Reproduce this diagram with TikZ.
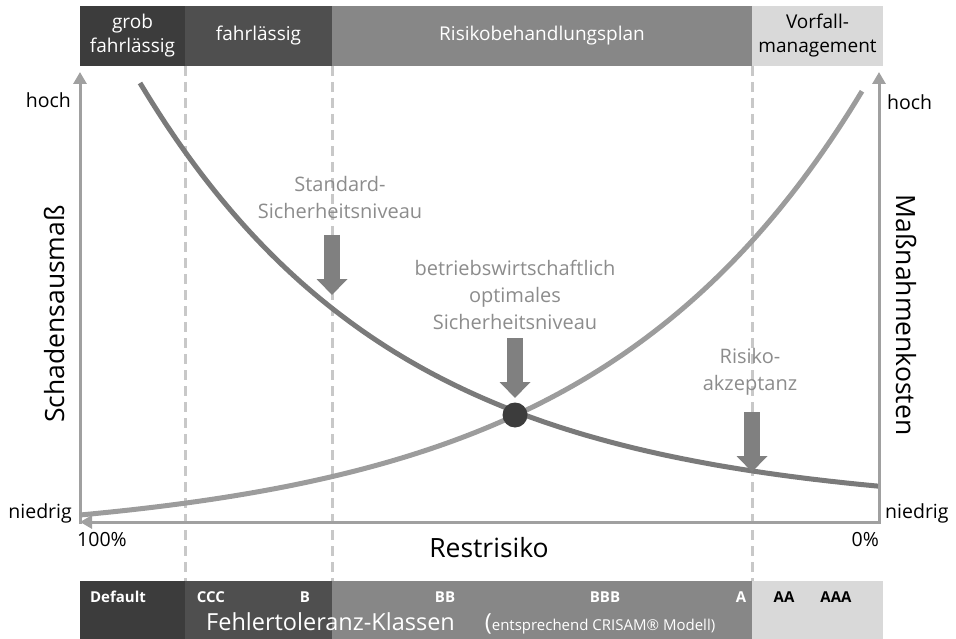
\documentclass[tikz,border=0pt]{standalone}
\usepackage{fontspec}
\setmainfont{Open Sans}
\usetikzlibrary{arrows.meta}
\definecolor{cdarkA}{HTML}{3C3C3C}
\definecolor{cdarkB}{HTML}{4F4F4F}
\definecolor{cmid}{HTML}{878787}
\definecolor{clight}{HTML}{D9D9D9}
\definecolor{caxis}{HTML}{A0A0A0}
\definecolor{cdash}{HTML}{C8C8C8}
\definecolor{clabel}{HTML}{8C8C8C}
\definecolor{carrow}{HTML}{808080}
\definecolor{ccurveA}{HTML}{7A7A7A}
\definecolor{ccurveB}{HTML}{9C9C9C}
\begin{document}
\begin{tikzpicture}[x=1pt,y=-1pt,
  bar/.style={inner sep=0pt, outer sep=0pt, anchor=north west, text=white, align=center,
    font=\fontsize{19}{24}\selectfont},
  cls/.style={inner sep=0pt, text=white, font=\fontsize{15}{18}\selectfont\bfseries},
  vdash/.style={draw=cdash, line width=3pt, dash pattern=on 10pt off 6pt},
  axisline/.style={draw=caxis, line width=3pt},
  axtip/.style={-{Triangle[width=13pt,length=12pt]}},
  ax/.style={inner sep=0pt, text=black, font=\fontsize{19.5}{23}\selectfont},
  lab/.style={inner sep=0pt, text=clabel, align=center, font=\fontsize{20}{27}\selectfont},
  blockarrow/.style={draw=carrow, line width=16pt, -{Triangle[width=30pt,length=16pt]}},
  big/.style={inner sep=0pt, text=black, font=\fontsize{26.5}{30}\selectfont}]
\useasboundingbox (0,0) rectangle (956,639);
% top bar
\node[bar, fill=cdarkA, minimum width=105pt, minimum height=60pt] (tb1) at (80,6) {grob\\fahrlässig};
\node[bar, fill=cdarkB, minimum width=147pt, minimum height=60pt] (tb2) at (185,6) {fahrlässig};
\node[bar, fill=cmid, minimum width=420pt, minimum height=60pt] (tb3) at (332,6) {Risikobehandlungsplan};
\node[bar, fill=clight, text=black, minimum width=131pt, minimum height=60pt] (tb4) at (752,6) {Vorfall-\\management};
% bottom bar
\node[bar, fill=cdarkA, minimum width=105pt, minimum height=58pt] (bb1) at (80,581) {};
\node[bar, fill=cdarkB, minimum width=147pt, minimum height=58pt] (bb2) at (185,581) {};
\node[bar, fill=cmid, minimum width=420pt, minimum height=58pt] (bb3) at (332,581) {};
\node[bar, fill=clight, minimum width=131pt, minimum height=58pt] (bb4) at (752,581) {};
% dashed separators
\draw[vdash] (tb1.south east) -- (bb1.north east);
\draw[vdash] (tb2.south east) -- (bb2.north east);
\draw[vdash] (tb3.south east) -- (bb3.north east);
% axes
\coordinate (o) at (80,522);
\coordinate (ob) at (80,524);
\coordinate (yl) at (80,72);
\coordinate (xr) at (879,522);
\coordinate (xrb) at (879,524);
\coordinate (yr) at (879,72);
\draw[axisline, axtip] (ob) -- (yl);
\draw[axisline, axtip] (xrb) -- (yr);
\draw[axisline, axtip] (xr) -- (o);
% curves
\draw[ccurveB, line width=5pt] plot[domain=80:862, samples=120] (\x, {540-25*exp(0.0037*(\x-80))});
\draw[ccurveA, line width=5pt] plot[domain=140:878, samples=120] (\x, {510-427*exp(-0.0039*(\x-140))});
% labels and block arrows
\node[lab] (std) at (340,198) {Standard-\\Sicherheitsniveau};
\node[lab] (opt) at (515,295) {betriebswirtschaftlich\\optimales\\Sicherheitsniveau};
\node[lab] (ra) at (750,372) {Risiko-\\akzeptanz};
\coordinate (s1) at (332,235);
\coordinate (t1) at (332,295);
\coordinate (s2) at (515,338);
\coordinate (t2) at (515,398);
\coordinate (s3) at (752,412);
\coordinate (t3) at (752,472);
\draw[blockarrow] (s1) -- (t1);
\draw[blockarrow] (s2) -- (t2);
\draw[blockarrow] (s3) -- (t3);
\node[circle, fill=cdarkA, minimum size=25pt, inner sep=0pt] (dot) at (515,415) {};
% axis texts
\node[ax, anchor=east] (hl) at (71,100) {hoch};
\node[ax, anchor=east] (nl) at (72,513) {niedrig};
\node[ax, anchor=west] (hr) at (887,102) {hoch};
\node[ax, anchor=west] (nr) at (885,513) {niedrig};
\node[ax, anchor=west] (p100) at (77,540) {100\%};
\node[ax, anchor=east] (p0) at (879,540) {0\%};
\node[big] (rest) at (489,548) {Restrisiko};
\node[big, rotate=90] (schad) at (54,314) {Schadensausmaß};
\node[big, rotate=-90] (mass) at (906,315) {Maßnahmenkosten};
% class labels
\node[cls] (cDef) at (118,597) {Default};
\node[cls] (cCCC) at (211,597) {CCC};
\node[cls] (cB) at (305,597) {B};
\node[cls] (cBB) at (445,597) {BB};
\node[cls] (cBBB) at (605,597) {BBB};
\node[cls] (cA) at (741,597) {A};
\node[cls, text=black] (cAA) at (784,597) {AA};
\node[cls, text=black] (cAAA) at (836,597) {AAA};
\node[inner sep=0pt, anchor=base west, text=white, font=\fontsize{23.5}{27}\selectfont] (fk) at (206,630)
  {Fehlertoleranz-Klassen\hspace{30pt}({\fontsize{15}{18}\selectfont entsprechend CRISAM® Modell)}};
\end{tikzpicture}
\end{document}
